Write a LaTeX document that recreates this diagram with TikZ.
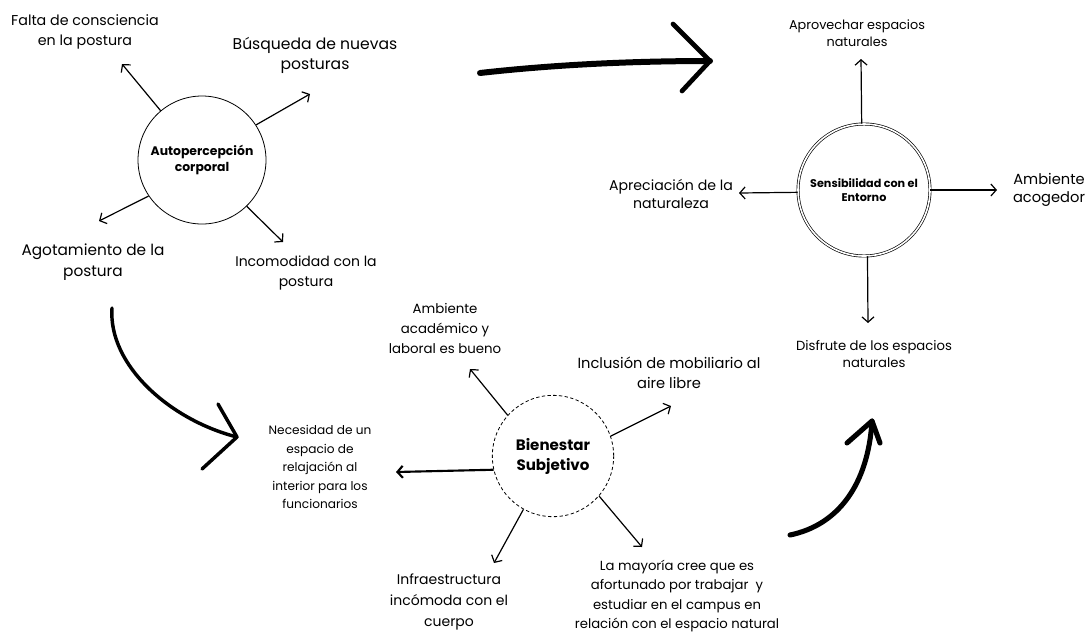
\documentclass[tikz,border=0pt]{standalone}
\usepackage{fontspec}
\setmainfont{Poppins}
\usetikzlibrary{arrows.meta}
\tikzset{txt/.style n args={2}{align=center, inner sep=0pt, font=\fontsize{#1}{#2}\selectfont}}
\tikzset{brush/.style={line width=#1, line cap=round, line join=round}}

\begin{document}
\begin{tikzpicture}[x=0.75pt, y=-0.75pt]
        %style
        \tikzset{hub/.style = {shape=circle, draw, line width=0.6pt, align=center, inner sep=0pt}}
        \tikzset{arr/.style = {-{Straight Barb[length=4pt, width=9pt]}, line width=0.9pt}}
        \useasboundingbox[fill=white] (0,0) rectangle (1087,633);
        % circles
        \node[hub, minimum size=96pt, font=\bfseries\fontsize{9.3}{11.3}\selectfont] (auto) at (202,160) {Autopercepción\\corporal};
        \node[hub, double, line width=0.5pt, double distance=1.2pt, minimum size=99pt, font=\bfseries\fontsize{8.4}{10.5}\selectfont] (sens) at (864,190) {Sensibilidad con el\\Entorno};
        \node[hub, dash pattern=on 2.5pt off 1.8pt, minimum size=91pt, font=\bfseries\fontsize{11.3}{15}\selectfont] (bien) at (553,456) {Bienestar\\Subjetivo};
        % labels
        \node[txt={10.7}{15.5}] (falta) at (85,32)   {Falta de consciencia\\en la postura};
        \node[txt={11.7}{15}]  (busq)   at (315,55)  {Búsqueda de nuevas\\posturas};
        \node[txt={11.5}{15.5}] (agot)  at (93,262)  {Agotamiento de la\\postura};
        \node[txt={10.5}{15}]  (incom)  at (306,273) {Incomodidad con la\\postura};
        \node[txt={9.6}{12.5}] (aprov)  at (857,33)  {Aprovechar espacios\\naturales};
        \node[txt={10.6}{13}]  (aprec)  at (671,194) {Apreciación de la\\naturaleza};
        \node[txt={11}{13.5}]  (acog)   at (1049,190) {Ambiente\\acogedor};
        \node[txt={9.9}{12.5}] (disf)   at (874,354) {Disfrute de los espacios\\naturales};
        \node[txt={10}{15}]    (acad)   at (445,328) {Ambiente\\académico y\\laboral es bueno};
        \node[txt={11}{15}]    (mobil)  at (669,373) {Inclusión de mobiliario al\\aire libre};
        \node[txt={9.1}{13.9}] (neces)  at (320,467) {Necesidad de un\\espacio de\\relajación al\\interior para los\\funcionarios};
        \node[txt={10.5}{15.5}] (infra) at (449,602) {Infraestructura\\incómoda con el\\cuerpo};
        \node[txt={9.9}{14.5}] (mayor)  at (677,596) {La mayoría cree que es\\afortunado por trabajar\ \ y\\estudiar en el campus en\\relación con el espacio natural};
        % arrow ends
        \coordinate (tfalta) at (122,64);
        \coordinate (tbusq)  at (310,94);
        \coordinate (tagot)  at (99,221);
        \coordinate (tincom) at (283,242);
        \coordinate (taprov) at (861,59);
        \coordinate (taprec) at (739,193);
        \coordinate (tacog)  at (997,190);
        \coordinate (tdisf)  at (868,323);
        \coordinate (tacad)  at (470,369);
        \coordinate (tmobil) at (671,406);
        \coordinate (tneces) at (396,472);
        \coordinate (tinfra) at (494,563);
        \coordinate (tmayor) at (642,547);
        \draw[arr] (auto.130) -- (tfalta);
        \draw[arr] (auto.33)  -- (tbusq);
        \draw[arr] (auto.214) -- (tagot);
        \draw[arr] (auto.314) -- (tincom);
        \draw[arr] (sens.92)  -- (taprov);
        \draw[arr] (sens.182) -- (taprec);
        \draw[arr] (sens.0)   -- (tacog);
        \draw[arr] (sens.273) -- (tdisf);
        \draw[arr] (bien.138) -- (tacad);
        \draw[arr] (bien.19)  -- (tmobil);
        \draw[arr, line width=1.6pt] (bien.193) -- (tneces);
        \draw[arr] (bien.241) -- (tinfra);
        \draw[arr] (bien.319) -- (tmayor);
        % brush arrows
        \coordinate (b1s) at (480,73);
        \coordinate (b1t) at (710,61);
        \coordinate (b1u) at (673,24);
        \coordinate (b1d) at (682,91);
        \draw[brush=4.5pt] (b1s) .. controls (560,64) and (640,61) .. (b1t);
        \draw[brush=3.5pt] (b1u) -- (b1t) -- (b1d);
        \coordinate (b2s) at (112,308);
        \coordinate (b2t) at (237,437);
        \coordinate (b2u) at (218,404);
        \coordinate (b2d) at (202,469);
        \draw[brush=2.6pt] (b2s) .. controls (108,365) and (170,420) .. (b2t);
        \draw[brush=2.6pt] (b2u) -- (b2t) -- (b2d);
        \coordinate (b3s) at (790,535);
        \coordinate (b3t) at (872,421);
        \coordinate (b3l) at (847,443);
        \coordinate (b3r) at (880,443);
        \draw[brush=3.8pt] (b3s) .. controls (838,525) and (868,485) .. (b3t);
        \draw[brush=3.8pt] (b3l) -- (b3t) -- (b3r);
\end{tikzpicture}
\end{document}
